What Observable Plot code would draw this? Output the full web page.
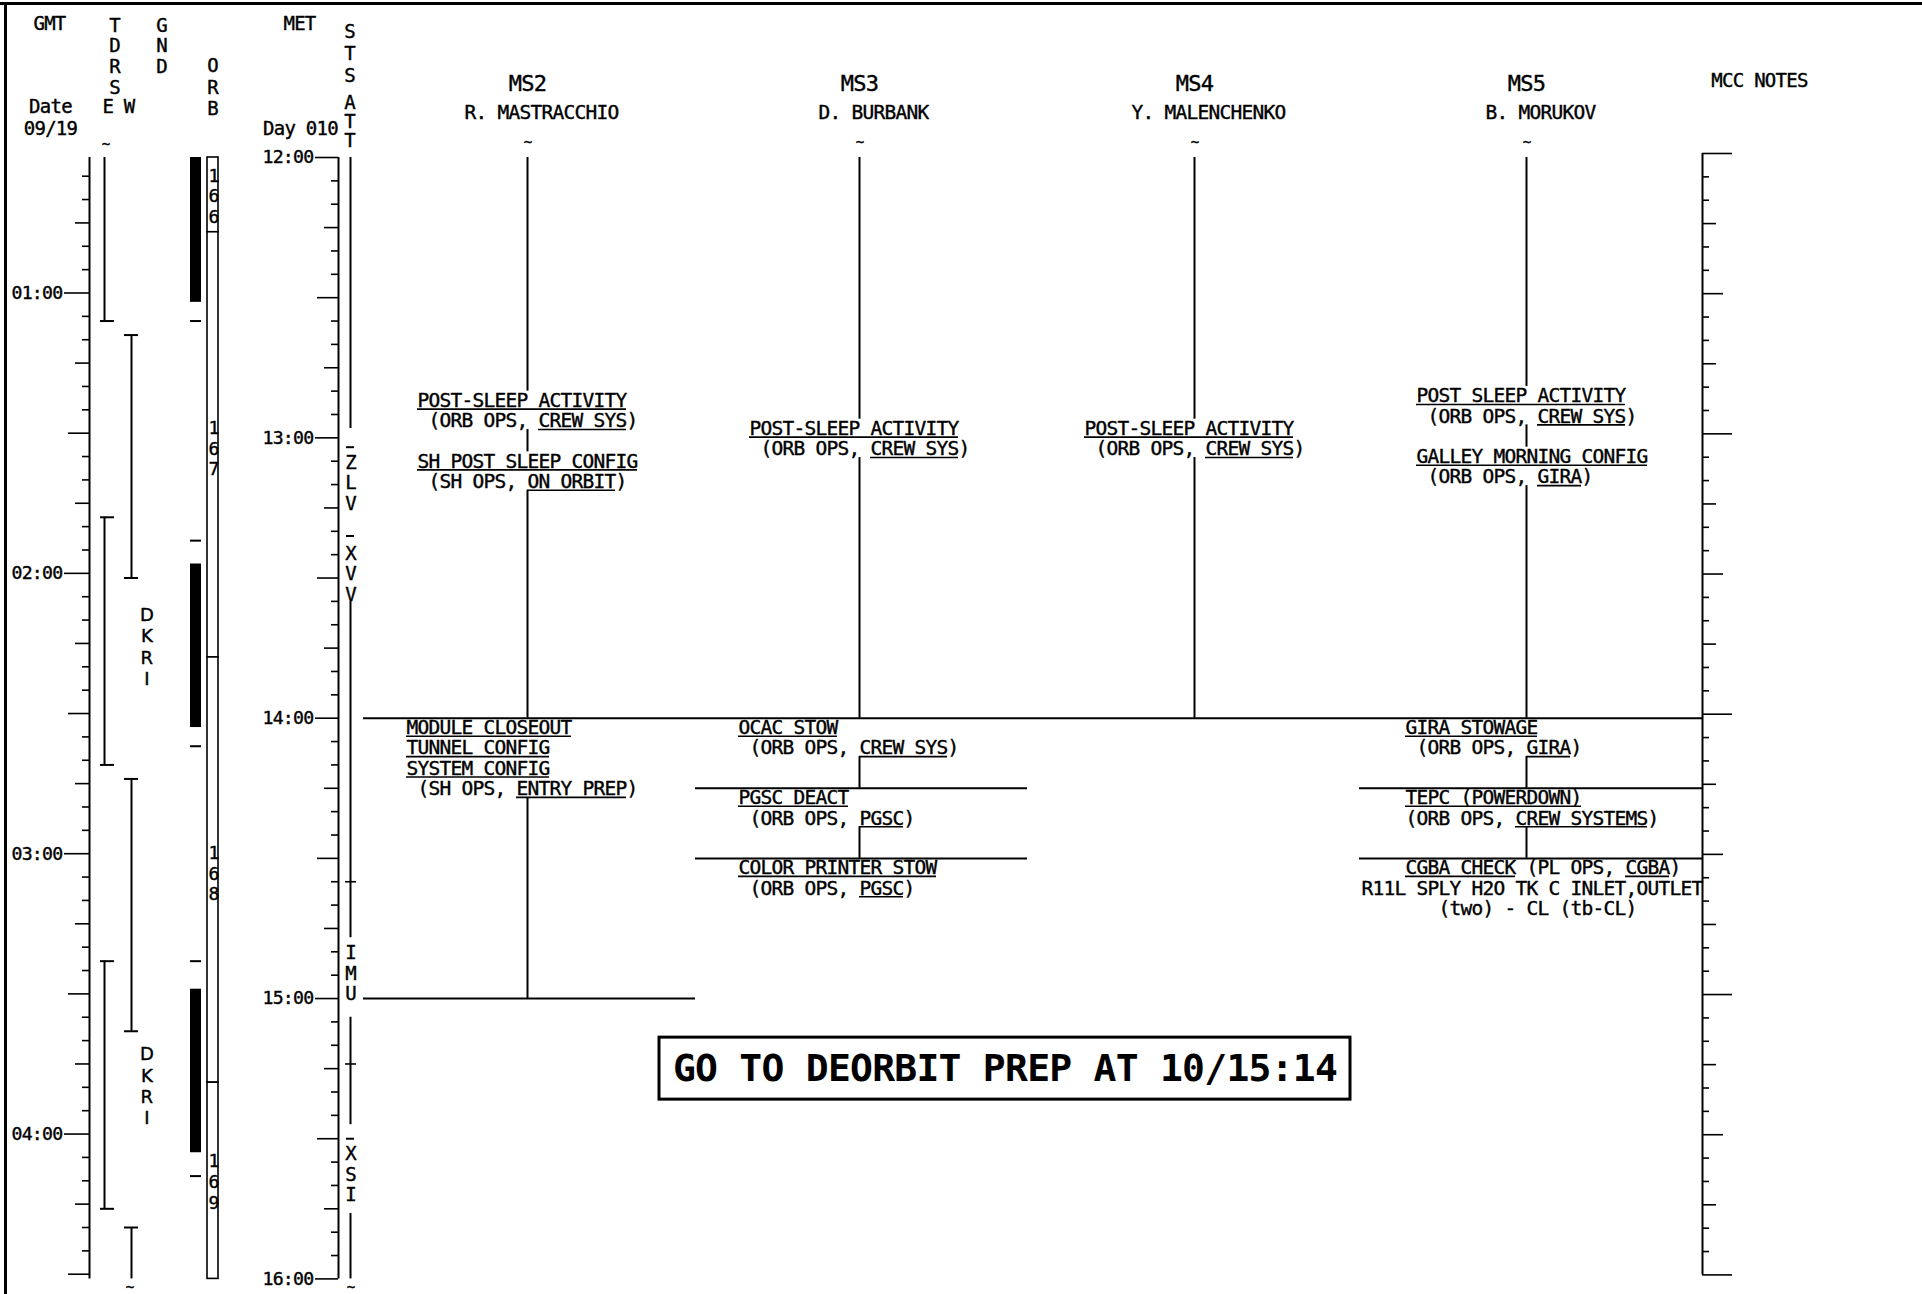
<!DOCTYPE html>
<html><head><meta charset="utf-8">
<script src="https://cdn.jsdelivr.net/npm/d3@7"></script>
<script src="https://cdn.jsdelivr.net/npm/@observablehq/plot@0.6"></script>
<style>html,body{margin:0;padding:0;background:#fff;overflow:hidden}</style>
</head><body><div id="chart"></div>
<script>
// ================= DATA =================
const metWindow = ["12:00", "16:00"];            // MET shown on the sheet
const gmtOffset = "11:29";                        // MET - GMT
const metHourLabels = ["12:00", "13:00", "14:00", "15:00", "16:00"];
const gmtHourLabels = ["01:00", "02:00", "03:00", "04:00"];

// TDRS coverage (GMT); null = continues past the sheet edge
const tdrsSat = ["E", "W", "E", "W", "E", "W"];
const tdrsAos = [null, "01:09", "01:48", "02:44", "03:23", "04:20"];
const tdrsLos = ["01:06", "02:01", "02:41", "03:38", "04:16", null];
const gndLabel = "DKRI";
const gndLabelAt = ["02:07", "03:41"];            // GMT

// Orbit (GMT)
const orbNightStart = [null, "01:58", "03:29"];
const orbNightEnd = ["01:02", "02:33", "04:04"];
const orbMarks = ["01:06", "01:53", "02:37", "03:23", "04:09"];
const orbitNumbers = ["166", "167", "168", "169"];
const orbitStart = [null, "00:47", "02:18", "03:49"];
const orbitEnd = ["00:47", "02:18", "03:49", null];
const orbitLabelAt = ["00:33", "01:27", "02:58", "04:04"];

// STS attitude (MET)
const stsLine = [["12:00", "12:58"], ["13:35", "14:47"], ["15:04", "15:27"], ["15:46", "16:00"]];
const stsAtt = ["ZLV", "XVV", "IMU", "XSI"];
const stsAttAt = ["13:03.5", "13:23", "14:48.5", "15:31.5"];
const stsDash = ["13:02", "13:21", "15:30"];
const stsMarks = ["14:35", "15:14"];

// Crew (MET)
const crews = ["MS2", "MS3", "MS4", "MS5"];
const crewNames = ["R. MASTRACCHIO", "D. BURBANK", "Y. MALENCHENKO", "B. MORUKOV"];
const crewLineStart = ["12:00", "12:00", "12:00", "12:00"];
const crewLineEnd = ["15:00", "14:30", "14:00", "14:30"];
const boundaryCrew = ["MS2", "MS3", "MS4", "MS5", "MS3", "MS3", "MS5", "MS5", "MS2"];
const boundaryMet = ["14:00", "14:00", "14:00", "14:00", "14:15", "14:30", "14:15", "14:30", "15:00"];

// activity notes: _text_ = underlined, leading spaces = typed indentation
const activities = [
  {crew: "MS2", met: "12:50", lines: ["     _POST-SLEEP ACTIVITY_", "      (ORB OPS, _CREW SYS_)"]},
  {crew: "MS2", met: "13:03", lines: ["     _SH POST SLEEP CONFIG_", "      (SH OPS, _ON ORBIT_)"]},
  {crew: "MS2", met: "14:00", lines: ["    _MODULE CLOSEOUT_", "    _TUNNEL CONFIG_", "    _SYSTEM CONFIG_", "     (SH OPS, _ENTRY PREP_)"]},
  {crew: "MS3", met: "12:56", lines: ["     _POST-SLEEP ACTIVITY_", "      (ORB OPS, _CREW SYS_)"]},
  {crew: "MS3", met: "14:00", lines: ["    _OCAC STOW_", "     (ORB OPS, _CREW SYS_)"]},
  {crew: "MS3", met: "14:15", lines: ["    _PGSC DEACT_", "     (ORB OPS, _PGSC_)"]},
  {crew: "MS3", met: "14:30", lines: ["    _COLOR PRINTER STOW_", "     (ORB OPS, _PGSC_)"]},
  {crew: "MS4", met: "12:56", lines: ["     _POST-SLEEP ACTIVITY_", "      (ORB OPS, _CREW SYS_)"]},
  {crew: "MS5", met: "12:49", lines: ["     _POST SLEEP ACTIVITY_", "      (ORB OPS, _CREW SYS_)"]},
  {crew: "MS5", met: "13:02", lines: ["     _GALLEY MORNING CONFIG_", "      (ORB OPS, _GIRA_)"]},
  {crew: "MS5", met: "14:00", lines: ["    _GIRA STOWAGE_", "     (ORB OPS, _GIRA_)"]},
  {crew: "MS5", met: "14:15", lines: ["    _TEPC (POWERDOWN)_", "    (ORB OPS, _CREW SYSTEMS_)"]},
  {crew: "MS5", met: "14:30", lines: ["    _CGBA CHECK_ (PL OPS, _CGBA_)", "R11L SPLY H2O TK C INLET,OUTLET", "       (two) - CL (tb-CL)"]}
];

const noteText = "GO TO DEORBIT PREP AT 10/15:14";
const noteAt = "15:15";

// ================= LAYOUT =================
const W = 1922, H = 1294;
const Y0 = 157, Y1 = 1278.4;                       // pixel rows of the MET window
const PXH = (Y1 - Y0) / 4;
const L = {
  gmtAxis: 89, gmtLabel: 62, tdrs: {E: 104, W: 131}, tdrsCap: {E: [-4, 10], W: [-7, 7]}, dkri: 146,
  night: [190, 201], orbBox: [207, 218], orbNum: 213,
  metAxis: 338, metLabel: 313, sts: 350, mcc: 1702, mccDy: -4,
  col: {MS2: 527, MS3: 859, MS4: 1194, MS5: 1526},
  lane: {MS2: [363, 695], MS3: [695, 1027], MS4: [1027, 1359], MS5: [1359, 1702]},
  charW: 11.0, fs: 19.5, rowPx: 20.4, textLead: 15,
  box: [659, 1350], boxHalf: 31
};
const fam = "DejaVu Sans Mono";
const ink = {fill: "black", stroke: "black", strokeWidth: 0.4};   // scanned-print weight

// ================= HELPERS =================
const hm = s => { const [h, m] = String(s).split(":").map(Number); return h + m / 60; };
const OFF = hm(gmtOffset);
const g2m = s => hm(s) + OFF;
const py = px => 12 + (px - Y0) / PXH;
const WIN0 = hm(metWindow[0]), WIN1 = hm(metWindow[1]);
const tickLen = (m, hourLen) => m % 60 === 0 ? hourLen : m % 30 === 0 ? 21 : m % 15 === 0 ? 14 : 7;
const vert = s => s.split("").join("\n");

function parseLine(raw) {
  let out = "", segs = [], open = null;
  for (const ch of raw) {
    if (ch === "_") { if (open === null) open = out.length; else { segs.push([open, out.length]); open = null; } }
    else out += ch;
  }
  return {text: out.trim(), lead: out.length - out.trimStart().length, len: out.trimEnd().length, segs};
}

// ticks (minutes)
const metTicks = d3.range(0, Math.round((WIN1 - WIN0) * 60) + 1, 5);
const g0 = Math.round((WIN0 - OFF) * 60), g1 = Math.round((WIN1 - OFF) * 60);
const gmtTicks = d3.range(Math.ceil(g0 / 5) * 5, g1 + 1, 5);

// derived tables
const tdrs = tdrsSat.map((sat, i) => ({sat, aos: tdrsAos[i], los: tdrsLos[i]}));
const caps = tdrs.flatMap(d => [d.aos && {sat: d.sat, t: g2m(d.aos)}, d.los && {sat: d.sat, t: g2m(d.los)}].filter(Boolean));
const nights = orbNightStart.map((s, i) => ({y1: s ? g2m(s) : WIN0, y2: orbNightEnd[i] ? g2m(orbNightEnd[i]) : WIN1}));
const orbits = orbitNumbers.map((n, i) => ({n, y1: orbitStart[i] ? g2m(orbitStart[i]) : WIN0, y2: orbitEnd[i] ? g2m(orbitEnd[i]) : WIN1, at: g2m(orbitLabelAt[i])}));
const boundaries = boundaryCrew.map((crew, i) => ({crew, t: hm(boundaryMet[i])}));

const rows = [], ulines = [], covers = [];
activities.forEach(a => {
  const left = L.col[a.crew] - L.textLead * L.charW;
  const t0 = hm(a.met);
  let x1 = Infinity, x2 = -Infinity, yEnd = t0;
  a.lines.forEach((raw, i) => {
    const p = parseLine(raw);
    const y = t0 + i * L.rowPx / PXH;
    const xs = left + p.lead * L.charW;
    rows.push({x: xs, y, text: p.text});
    p.segs.forEach(([s, e]) => ulines.push({y, x1: left + s * L.charW, x2: left + e * L.charW}));
    x1 = Math.min(x1, xs); x2 = Math.max(x2, left + p.len * L.charW);
    yEnd = y;
  });
  covers.push({x1: x1 - 3, x2: x2 + 3, y1: t0, y2: yEnd + 18 / PXH});
});

const tildes = [
  ...tdrs.filter(d => !d.aos).map(d => ({x: L.tdrs[d.sat] + 1, y: WIN0 - 13 / PXH})),
  ...tdrs.filter(d => !d.los).map(d => ({x: L.tdrs[d.sat] - 2, y: WIN1 + 9 / PXH})),
  {x: L.sts, y: WIN1 + 9 / PXH},
  ...crews.map(c => ({x: L.col[c], y: WIN0 - 15 / PXH}))
];

// ================= MARKS =================
const marks = [];
// sheet border
marks.push(Plot.ruleY([0], {y: py(3), x1: 0, x2: W, strokeWidth: 3}));
marks.push(Plot.ruleX([0], {x: 5, y1: py(2), y2: py(H), strokeWidth: 3}));

// GMT axis
marks.push(Plot.ruleX([0], {x: L.gmtAxis, y1: WIN0, y2: WIN1, strokeWidth: 2}));
marks.push(Plot.ruleY(gmtTicks, {y: m => m / 60 + OFF, x1: m => L.gmtAxis - tickLen(m, L.gmtAxis - L.gmtLabel - 2), x2: L.gmtAxis, strokeWidth: 1.6}));
marks.push(Plot.text(gmtHourLabels, {x: L.gmtLabel, y: d => g2m(d), text: d => d, textAnchor: "end", lineAnchor: "middle", fontSize: 18.2, fontFamily: fam, ...ink}));

// TDRS
marks.push(Plot.ruleX(tdrs, {x: d => L.tdrs[d.sat], y1: d => d.aos ? g2m(d.aos) : WIN0, y2: d => d.los ? g2m(d.los) : WIN1, strokeWidth: 2}));
marks.push(Plot.ruleY(caps, {y: "t", x1: d => L.tdrs[d.sat] + L.tdrsCap[d.sat][0], x2: d => L.tdrs[d.sat] + L.tdrsCap[d.sat][1], strokeWidth: 2}));
marks.push(Plot.text(gndLabelAt, {x: L.dkri, y: d => g2m(d), text: () => vert(gndLabel), lineAnchor: "top", lineHeight: 1.18, fontSize: 18, fontFamily: "DejaVu Sans", ...ink}));

// ORB
marks.push(Plot.rect(nights, {x1: L.night[0], x2: L.night[1], y1: "y1", y2: "y2", fill: "black"}));
marks.push(Plot.ruleY(orbMarks, {y: d => g2m(d), x1: L.night[0], x2: L.night[1], strokeWidth: 2}));
marks.push(Plot.rect(orbits, {x1: L.orbBox[0], x2: L.orbBox[1], y1: "y1", y2: "y2", fill: "white", stroke: "black", strokeWidth: 1.6}));
marks.push(Plot.text(orbits, {x: L.orbNum, y: "at", text: d => vert(d.n), lineAnchor: "top", lineHeight: 1.15, fontSize: 18, fontFamily: fam, ...ink}));

// MET axis
marks.push(Plot.ruleX([0], {x: L.metAxis, y1: WIN0, y2: WIN1, strokeWidth: 2}));
marks.push(Plot.ruleY(metTicks, {y: m => WIN0 + m / 60, x1: m => L.metAxis - tickLen(m, L.metAxis - L.metLabel - 2), x2: L.metAxis, strokeWidth: 1.6}));
marks.push(Plot.text(metHourLabels, {x: L.metLabel, y: d => hm(d), text: d => d, textAnchor: "end", lineAnchor: "middle", fontSize: 18.2, fontFamily: fam, ...ink}));

// STS attitude
marks.push(Plot.ruleX(stsLine, {x: L.sts, y1: d => hm(d[0]), y2: d => hm(d[1]), strokeWidth: 2}));
marks.push(Plot.ruleY(stsDash, {y: d => hm(d), x1: L.sts - 4, x2: L.sts + 4, strokeWidth: 2}));
marks.push(Plot.ruleY(stsMarks, {y: d => hm(d), x1: L.sts - 5, x2: L.sts + 6, strokeWidth: 1.6}));
marks.push(Plot.text(stsAtt, {x: L.sts, y: (d, i) => hm(stsAttAt[i]), text: d => vert(d), lineAnchor: "top", lineHeight: 1.077, fontSize: 19, fontFamily: fam, ...ink}));

// crew timelines
marks.push(Plot.ruleX(crews, {x: c => L.col[c], y1: (c, i) => hm(crewLineStart[i]), y2: (c, i) => hm(crewLineEnd[i]), strokeWidth: 2}));
marks.push(Plot.rect(covers, {x1: "x1", x2: "x2", y1: "y1", y2: "y2", fill: "white"}));
marks.push(Plot.ruleY(boundaries, {y: "t", x1: d => L.lane[d.crew][0], x2: d => L.lane[d.crew][1], strokeWidth: 2}));
marks.push(Plot.text(rows, {x: "x", y: "y", text: "text", textAnchor: "start", lineAnchor: "top", dy: 2, fontSize: L.fs, fontFamily: fam, ...ink}));
marks.push(Plot.ruleY(ulines, {y: "y", x1: "x1", x2: "x2", dy: 18, strokeWidth: 1.6}));

// MCC notes axis
marks.push(Plot.ruleX([0], {x: L.mcc, y1: WIN0, y2: WIN1, strokeWidth: 2, dy: L.mccDy}));
marks.push(Plot.ruleY(metTicks, {y: m => WIN0 + m / 60, x1: L.mcc, x2: m => L.mcc + tickLen(m, 30), strokeWidth: 1.6, dy: L.mccDy}));

// tildes
marks.push(Plot.text(tildes, {x: "x", y: "y", text: () => "~", fontSize: 14, lineAnchor: "middle", fontFamily: fam, ...ink}));

// headers
const heads = [
  {x: 49, y: 23, t: "GMT"}, {x: 299, y: 23, t: "MET"}, {x: 50, y: 106, t: "Date"}, {x: 50, y: 128, t: "09/19"},
  {x: 300, y: 128, t: "Day 010"}, {x: 118, y: 106, t: "E W"}, {x: 1759, y: 80, t: "MCC NOTES"}
];
marks.push(Plot.text(heads, {x: "x", y: d => py(d.y), text: "t", lineAnchor: "middle", fontSize: 19, fontFamily: fam, ...ink}));
const vheads = [
  {x: 114, top: 16.4, t: "TDRS", lh: 1.09}, {x: 161, top: 16.4, t: "GND", lh: 1.09}, {x: 212, top: 56.4, t: "ORB", lh: 1.13},
  {x: 349, top: 21.4, t: "STS", lh: 1.16}, {x: 349, top: 95.4, t: "ATT", lh: 1.0}
];
vheads.forEach(v => marks.push(Plot.text([v], {x: "x", y: d => py(d.top), text: d => vert(d.t), lineAnchor: "top", lineHeight: v.lh, fontSize: 19, fontFamily: fam, ...ink})));
marks.push(Plot.text(crews, {x: c => L.col[c], y: py(83.5), text: c => c, lineAnchor: "middle", fontSize: 22, fontFamily: fam, ...ink}));
marks.push(Plot.text(crewNames, {x: (d, i) => L.col[crews[i]] + 14, y: py(112), text: d => d, lineAnchor: "middle", fontSize: L.fs, fontFamily: fam, ...ink}));

// deorbit note
marks.push(Plot.rect([noteText], {x1: L.box[0], x2: L.box[1], y1: hm(noteAt) - L.boxHalf / PXH, y2: hm(noteAt) + L.boxHalf / PXH, fill: "white", stroke: "black", strokeWidth: 3}));
marks.push(Plot.text([noteText], {x: (L.box[0] + L.box[1]) / 2, y: hm(noteAt), text: d => d, lineAnchor: "middle", fontSize: 38, fontWeight: "bold", fontFamily: fam, fill: "black"}));

const chart = Plot.plot({
  width: W, height: H, marginTop: 0, marginRight: 0, marginBottom: 0, marginLeft: 0,
  x: {type: "linear", domain: [0, W], range: [0, W], axis: null},
  y: {type: "linear", domain: [WIN0, WIN1], range: [Y0, Y1], axis: null},
  style: {fontFamily: fam, letterSpacing: "-0.74px", background: "white", color: "black"},
  marks
});
document.getElementById("chart").appendChild(chart);
</script>
</body></html>
